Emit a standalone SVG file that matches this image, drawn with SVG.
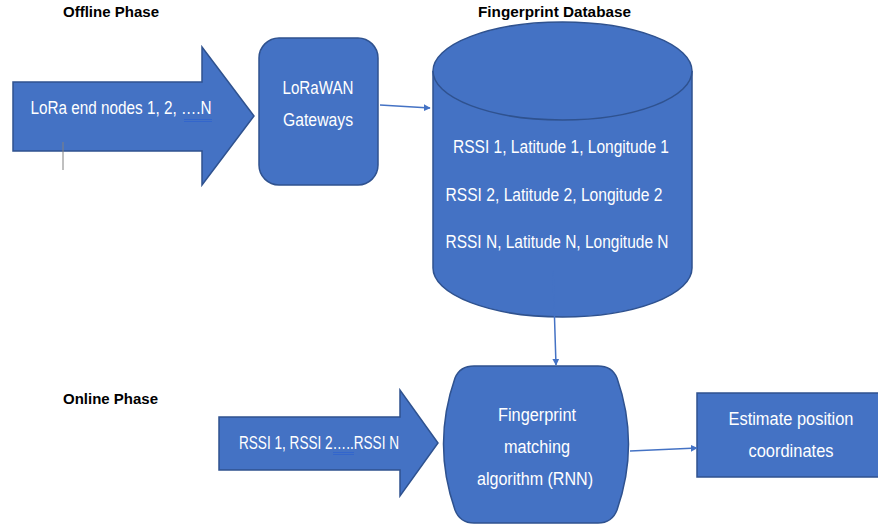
<svg xmlns="http://www.w3.org/2000/svg" width="878" height="527" viewBox="0 0 878 527">
<defs>
<style>
.shape{fill:#4472C4;stroke:#2F528F;stroke-width:1.5}
.t{font-family:"Liberation Sans",Arial,sans-serif;font-size:17.5px;fill:#ffffff;text-anchor:middle}
.h{font-family:"Liberation Sans",Arial,sans-serif;font-size:14.5px;font-weight:bold;fill:#000000}
.conn{stroke:#4472C4;stroke-width:1.5;fill:none}
.sq{stroke:#3366CC;stroke-width:1}
</style>
<marker id="ah" viewBox="0 0 10 10" refX="9" refY="5" markerWidth="7" markerHeight="7" markerUnits="userSpaceOnUse" orient="auto">
<path d="M0,0 L10,5 L0,10 Z" fill="#4472C4"/>
</marker>
</defs>
<rect width="878" height="527" fill="#ffffff"/>
<text class="h" x="63" y="17" textLength="96" lengthAdjust="spacingAndGlyphs">Offline Phase</text>
<text class="h" x="478" y="17" textLength="153" lengthAdjust="spacingAndGlyphs">Fingerprint Database</text>
<text class="h" x="63" y="404" textLength="95" lengthAdjust="spacingAndGlyphs">Online Phase</text>

<g id="endnodes">
<path class="shape" d="M13,82 H202 V47 L254,116 L202,185 V151 H13 Z"/>
<text class="t" x="121" y="114" textLength="181" lengthAdjust="spacingAndGlyphs">LoRa end nodes 1, 2, ….N</text>
<line class="sq" x1="184" y1="119.5" x2="212" y2="119.5"/>
<line class="sq" x1="184" y1="121.5" x2="212" y2="121.5"/>
<line x1="63" y1="142" x2="63" y2="170" stroke="#808080" stroke-width="1"/>
</g>

<g id="gateways">
<rect class="shape" x="259" y="38" width="119" height="147" rx="20" ry="20"/>
<text class="t" x="318" y="94" textLength="71" lengthAdjust="spacingAndGlyphs">LoRaWAN</text>
<text class="t" x="318" y="126" textLength="70" lengthAdjust="spacingAndGlyphs">Gateways</text>
</g>

<g id="database">
<path class="shape" d="M433,71 A129.5,49 0 0 1 692,71 V268 A129.5,49 0 0 1 433,268 Z"/>
<path class="shape" d="M433,71 A129.5,49 0 0 0 692,71" fill="none"/>
<text class="t" x="561" y="153" textLength="216" lengthAdjust="spacingAndGlyphs">RSSI 1, Latitude 1, Longitude 1</text>
<text class="t" x="554" y="201" textLength="217" lengthAdjust="spacingAndGlyphs">RSSI 2, Latitude 2, Longitude 2</text>
<text class="t" x="557" y="248" textLength="223" lengthAdjust="spacingAndGlyphs">RSSI N, Latitude N, Longitude N</text>
</g>

<g id="rssi-input">
<path class="shape" d="M219,417 H400 V390 L438,443 L400,496 V470 H219 Z"/>
<text class="t" x="319" y="449" textLength="160" lengthAdjust="spacingAndGlyphs">RSSI 1, RSSI 2…..RSSI N</text>
<line class="sq" x1="333" y1="452.5" x2="354" y2="452.5"/>
<line class="sq" x1="333" y1="454.5" x2="354" y2="454.5"/>
</g>

<g id="matching">
<path class="shape" d="M474,366 H598 Q612,366 617,378 Q640,444 617,510 Q612,523 598,523 H474 Q460,523 455,510 Q432,444 455,378 Q460,366 474,366 Z"/>
<text class="t" x="537" y="421" textLength="78" lengthAdjust="spacingAndGlyphs">Fingerprint</text>
<text class="t" x="537" y="453" textLength="66" lengthAdjust="spacingAndGlyphs">matching</text>
<text class="t" x="535" y="485" textLength="116" lengthAdjust="spacingAndGlyphs">algorithm (RNN)</text>
</g>

<g id="estimate">
<rect class="shape" x="697" y="393" width="185" height="84"/>
<text class="t" x="791" y="425" textLength="125" lengthAdjust="spacingAndGlyphs">Estimate position</text>
<text class="t" x="791" y="457" textLength="85" lengthAdjust="spacingAndGlyphs">coordinates</text>
</g>

<g id="connectors">
<line class="conn" x1="380" y1="105" x2="430" y2="108" marker-end="url(#ah)"/>
<line class="conn" x1="553" y1="270" x2="556" y2="365" marker-end="url(#ah)"/>
<line class="conn" x1="630" y1="451" x2="697" y2="448" marker-end="url(#ah)"/>
</g>
</svg>
